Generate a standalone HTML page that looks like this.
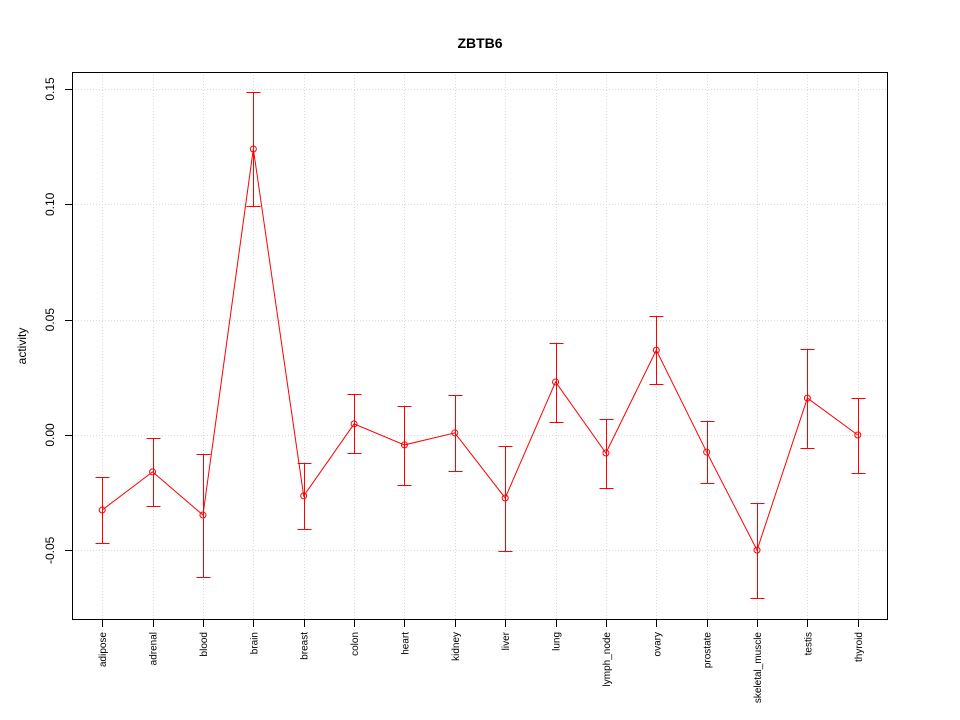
<!DOCTYPE html>
<html><head><meta charset="utf-8"><style>body{margin:0;background:#fff}svg{display:block}text{font-family:"Liberation Sans",sans-serif}</style></head>
<body>
<svg id="chart" width="960" height="720">
<text x="480" y="48" text-anchor="middle" font-size="14" font-weight="bold">ZBTB6</text>
<text transform="translate(26,346) rotate(-90)" text-anchor="middle" font-size="12">activity</text>
<g id="grid"></g><g id="axes"></g><g id="marks"></g>
<rect x="72.5" y="72.5" width="815" height="547" fill="none" stroke="#000"/>
</svg>
<script>
const categories=["adipose","adrenal","blood","brain","breast","colon","heart","kidney","liver","lung","lymph_node","ovary","prostate","skeletal_muscle","testis","thyroid"];
const values=[-0.0325,-0.016,-0.0347,0.124,-0.0264,0.0048,-0.0043,0.0009,-0.0273,0.023,-0.0078,0.0368,-0.0074,-0.0499,0.016,0];
const upper=[-0.0182,-0.0013,-0.0082,0.1487,-0.0121,0.0178,0.0126,0.0173,-0.0048,0.0399,0.0069,0.0516,0.0061,-0.0295,0.0373,0.016];
const lower=[-0.0468,-0.0308,-0.0616,0.0993,-0.0408,-0.0078,-0.0217,-0.0156,-0.0503,0.0056,-0.023,0.0221,-0.0208,-0.0707,-0.0056,-0.0165];
const yTicks=[-0.05,0,0.05,0.10,0.15];
const yTickLabels=["-0.05","0.00","0.05","0.10","0.15"];
const NS="http://www.w3.org/2000/svg";
const L=72,R=888,T=72,B=620;
const xs=i=>L+(i+1-0.4)*(R-L)/16.2;
const ys=v=>435-v*2306.7;
const px=v=>Math.round(v)+0.5;
function mk(p,tag,a){const e=document.createElementNS(NS,tag);for(const k in a)e.setAttribute(k,a[k]);p.appendChild(e);return e;}
const grid=document.getElementById('grid'),axes=document.getElementById('axes'),marks=document.getElementById('marks');
categories.forEach((c,i)=>{
 const g=mk(grid,'line',{x1:px(xs(i)),x2:px(xs(i)),y1:T,y2:B,stroke:'#d9d9d9','stroke-dasharray':'1,2'});
 
 
 const t=mk(axes,'line',{x1:px(xs(i)),x2:px(xs(i)),y1:B,y2:B+7,stroke:'#000'});
 
 
 const tx=mk(axes,'text',{transform:`translate(${xs(i)+4},632) rotate(-90)`,'text-anchor':'end','font-size':'10'});
 tx.textContent=c;
 
 
});
yTicks.forEach((v,i)=>{
 const g=mk(grid,'line',{x1:L,x2:R,y1:px(ys(v)),y2:px(ys(v)),stroke:'#d9d9d9','stroke-dasharray':'1,2'});
 
 
 const t=mk(axes,'line',{x1:L-7,x2:L,y1:px(ys(v)),y2:px(ys(v)),stroke:'#000'});
 
 
 const tx=mk(axes,'text',{transform:`translate(54,${ys(v)}) rotate(-90)`,'text-anchor':'middle','font-size':'12'});
 tx.textContent=yTickLabels[i];
 
 
});
const pl=mk(marks,'polyline',{points:values.map((v,i)=>xs(i)+','+ys(v)).join(' '),fill:'none',stroke:'red'});


values.forEach((v,i)=>{
 const x=px(xs(i));
 const e=mk(marks,'path',{d:`M${x},${ys(upper[i])}V${ys(lower[i])}M${x-7},${px(ys(upper[i]))}H${x+7}M${x-7},${px(ys(lower[i]))}H${x+7}`,stroke:'red',fill:'none'});
 
 
 const p=mk(marks,'circle',{cx:xs(i),cy:ys(v),r:3,fill:'none',stroke:'red'});
 
 
});
</script>
</body></html>
